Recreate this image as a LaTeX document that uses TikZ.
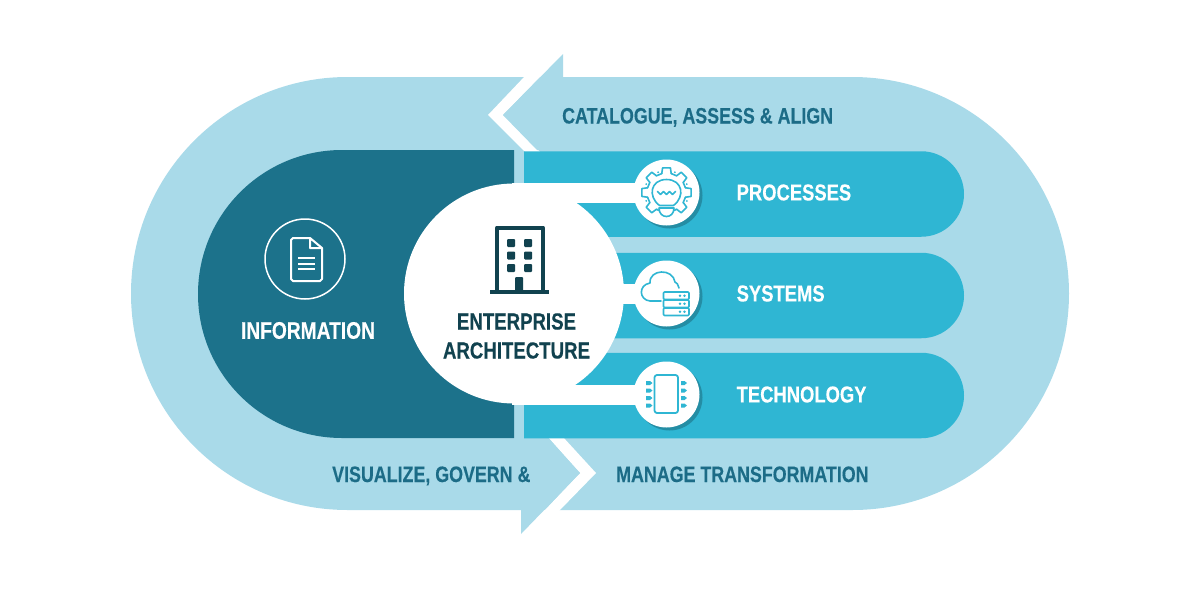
\documentclass[tikz,border=0pt]{standalone}
\usepackage{fontspec}
\setmainfont{Liberation Sans}[FakeStretch=0.8,BoldFeatures={FakeBold=0.25}]
\usetikzlibrary{positioning}
\usetikzlibrary{shadows}
\usetikzlibrary{shapes.misc}
\definecolor{palecyan}{HTML}{A9DAE9}
\definecolor{deepteal}{HTML}{1C728B}
\definecolor{brightcyan}{HTML}{2FB6D3}
\definecolor{inkteal}{HTML}{1C6C87}
\definecolor{inkdark}{HTML}{11424F}
\tikzset{
  pillbox/.style={rounded rectangle,inner sep=0pt,outer sep=0pt,fill=palecyan,minimum width=938pt,minimum height=433pt},
  leftbox/.style={rounded rectangle,rounded rectangle right arc=none,inner sep=0pt,outer sep=0pt,fill=deepteal,minimum width=316pt,minimum height=288pt},
  barbox/.style={rounded rectangle,rounded rectangle left arc=none,inner sep=0pt,outer sep=0pt,fill=brightcyan,minimum width=440pt,minimum height=85.5pt},
  corebox/.style={circle,inner sep=0pt,outer sep=0pt,fill=white,minimum size=220pt},
  iconbox/.style={circle,inner sep=0pt,outer sep=0pt,fill=white,minimum size=66pt,
    drop shadow={shadow xshift=3pt,shadow yshift=-3pt,opacity=.35,fill=inkdark}},
  linkbar/.style={white,line width=20pt,shorten >=-4pt,shorten <=-2pt},
  bandtext/.style={text=inkteal,font=\bfseries\fontsize{22.3}{28}\selectfont,inner sep=0pt,anchor=base west},
  bartext/.style={text=white,font=\bfseries\fontsize{23}{28}\selectfont,inner sep=0pt},
  icon/.style={brightcyan,line width=1.6pt,line join=round,line cap=round},
}
\begin{document}
\begin{tikzpicture}[x=1pt,y=-1pt,node distance=101pt]
  \useasboundingbox (0,0) rectangle (1200,600);

  \node[pillbox] (pill) at (600,293.5) {};

  % arrow heads with their white gaps
  \fill[white] (525,76) -- (488,115) -- (525,152) -- (540,152) -- (503,115) -- (541,76) -- cycle;
  \fill[palecyan] (563,54) -- (503,115) -- (537,150) -- (563,150) -- cycle;
  \fill[white] (548,437) -- (580,473) -- (544,511) -- (559,511) -- (596,473) -- (563,437) -- cycle;
  \fill[palecyan] (521,534) -- (580,473) -- (548,438) -- (521,438) -- cycle;

  \node[leftbox] (info) at (356,294) {};
  \node[barbox] (procbar) at (744,194) {};
  \node[barbox] (sysbar) at (744,295.5) {};
  \node[barbox] (techbar) at (744,395.5) {};
  \node[corebox] (core) at (514,293.5) {};

  \node[iconbox] (procicon) at (666.5,192.5) {};
  \node[iconbox] (sysicon) [below of=procicon] {};
  \node[iconbox] (techicon) [below of=sysicon] {};

  \draw[linkbar] (core.center |- procicon) -- (procicon);
  \draw[linkbar] (core) -- (sysicon);
  \draw[linkbar] (core.center |- techicon) -- (techicon);

  % document
  \node[circle,draw=white,line width=1.5pt,inner sep=0pt,minimum size=80pt] (docring) at (305,259) {};
  \draw[white,line width=2pt,line join=round] (310,238) -- (293,238) -- (291,240) -- (291,279) -- (293,281) -- (320,281) -- (322,279) -- (322,248) -- (310,238) -- (310,248) -- (322,248);
  \foreach \y in {258,263.5,269}
    \draw[white,line width=2pt] (298,\y) -- (315,\y);

  % building
  \draw[inkdark,line width=4pt,line join=round] (497,292) -- (497,227.5) -- (543,227.5) -- (543,292);
  \draw[inkdark,line width=3.5pt] (490,292) -- (549,292);
  \foreach \x in {511,528}
    \foreach \y in {243,255.5,268}
      \fill[inkdark,rounded corners=1pt] (\x-4,\y-4) rectangle (\x+4,\y+4);
  \fill[inkdark,rounded corners=1pt] (515,292) -- (515,277) -- (523,277) -- (523,292) -- cycle;

  % gear and bulb
  \begin{scope}[shift={(666.5,192.5)}]
    \foreach \a in {0,45,135,180,225,270,315}
      \draw[icon] (\a-14:19.5) -- (\a-9:25) -- (\a+9:25) -- (\a+14:19.5);
    \foreach \a in {0,135,180,225,270,315}
      \draw[icon] (\a+14:19.5) -- (\a+31:19.5);
    \draw[icon] (59:19.5) -- (66:19.5) (114:19.5) -- (121:19.5);
    \draw[icon] (-7,13) .. controls (-19,4) and (-16,-13) .. (0,-13) .. controls (16,-13) and (19,4) .. (7,13) -- cycle;
    \draw[icon] (-9,-1) -- (-6,2) -- (-3,-1) -- (0,2) -- (3,-1) -- (6,2) -- (9,-1);
    \draw[icon] (-7.5,15.5) -- (7.5,15.5) .. controls (7.5,21) and (4,24) .. (0,24) .. controls (-4,24) and (-7.5,21) .. (-7.5,15.5) -- cycle;
    \foreach \a in {22.5,157.5,202.5,247.5,292.5,337.5}
      \fill[brightcyan] (\a:22) circle (1);
  \end{scope}

  % cloud and server
  \draw[icon] (661,301) -- (650,301) .. controls (639,300) and (638,285) .. (650,283) .. controls (649,269) and (673,268) .. (675,282) .. controls (677,282) and (678,285) .. (679,288);
  \foreach \y in {292,300,308}
    \draw[icon,fill=white,rounded corners=1pt] (663.5,\y) rectangle (689,\y+7.5);
  \foreach \y in {295.75,303.75,311.75}
    \fill[brightcyan] (680,\y) circle (1.3) (684.5,\y) circle (1.3);

  % chip
  \draw[icon,line width=1.8pt,rounded corners=2.5pt] (654.5,375) rectangle (678,413);
  \foreach \y in {383,390.5,398,405.5} {
    \fill[brightcyan] (646,\y-2) -- (650,\y-2) -- (652.5,\y) -- (650,\y+2) -- (646,\y+2) -- cycle;
    \fill[brightcyan] (681,\y-2) -- (684.5,\y-2) -- (687,\y) -- (684.5,\y+2) -- (681,\y+2) -- cycle;
  }

  \node[bandtext] (catalogue) at (562,123.5) {CATALOGUE, ASSESS \& ALIGN};
  \node[bandtext] (visualize) at (332,482) {VISUALIZE, GOVERN \&};
  \node[bandtext] (manage) at (616,482) {MANAGE TRANSFORMATION};
  \node[bartext,font=\bfseries\fontsize{24}{28}\selectfont] (infolabel) at (308,330.5) {INFORMATION};
  \node[bartext,right=37pt of procicon] (proclabel) {PROCESSES};
  \node[bartext,right=37pt of sysicon] (syslabel) {SYSTEMS};
  \node[bartext,right=37pt of techicon] (techlabel) {TECHNOLOGY};
  \node[text=inkdark,font=\bfseries\fontsize{23.3}{29}\selectfont,align=center,inner sep=0pt] (corelabel) at (516.5,336) {ENTERPRISE\\ARCHITECTURE};
\end{tikzpicture}
\end{document}
